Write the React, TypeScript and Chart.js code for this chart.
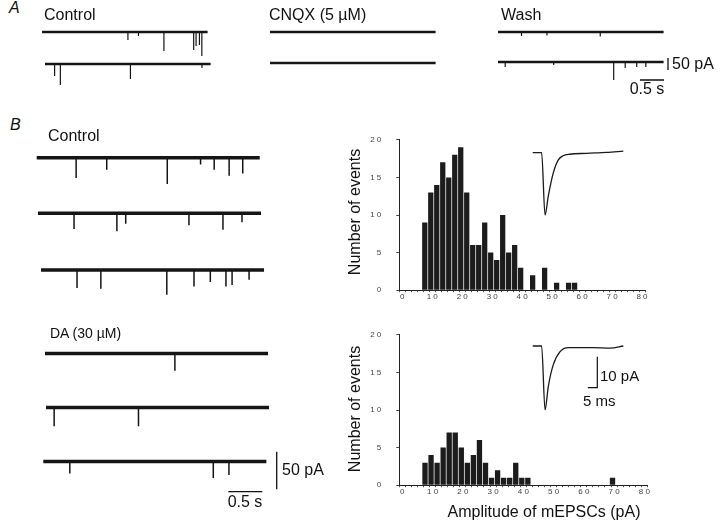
import React, { useEffect, useRef } from 'react';
import { Chart, registerables } from 'chart.js';

Chart.register(...registerables);

const FONT = '"Liberation Sans", Arial, Helvetica, sans-serif';

// ---------------- Histogram data (mEPSC amplitude, 2 pA bins starting at 6.5 pA)
const BIN_START = 6.5;
const BIN_WIDTH = 2;
const CONTROL_COUNTS = [9, 13, 14, 17, 15, 18, 19, 13, 6, 6, 9, 5, 4, 10, 5, 6, 3, 0, 2, 0, 3, 0, 1, 0, 1, 1];
const DA_COUNTS = [3, 4, 3, 5, 7, 7, 5, 3, 4, 6, 3, 1, 2, 1, 1, 3, 1, 1, 0, 0, 0, 0, 0, 0, 0, 0, 0, 0, 0, 0, 0, 1];
const X_TICK_LABELS = ['0', '1 0', '2 0', '3 0', '4 0', '5 0', '6 0', '7 0', '8 0'];
const Y_TICK_LABELS = ['0', '5', '1 0', '1 5', '2 0'];

// ---------------- Averaged mEPSC insets (time ms, current pA)
const INSET_CONTROL_T = [0, 4.7, 6.5, 8.2, 10.8, 13.4, 16.0, 19.5, 28.3, 38.9, 47.7];
const INSET_CONTROL_I = [0, 0, -20.1, -14.0, -6.6, -2.4, -1.0, -0.5, -0.2, 0.1, 0.5];
const INSET_DA_T = [0, 4.7, 6.5, 8.2, 10.8, 14.4, 18.7, 31.7, 40.8, 47.7];
const INSET_DA_I = [0, 0, -20.6, -13.1, -6.1, -1.8, -0.5, -0.5, -0.7, 0];

// ---------------- Panel A traces: event times (s) and amplitudes (pA)
const A_CONTROL1_T = [1.79, 2.01, 2.54, 3.16, 3.21, 3.28, 3.33];
const A_CONTROL1_AMP = [33, 17, 79, 75, 58, 54, 100];
const A_CONTROL2_T = [0.2, 0.32, 1.78, 3.27];
const A_CONTROL2_AMP = [50, 88, 63, 17];
const A_CNQX1_T: number[] = [];
const A_CNQX1_AMP: number[] = [];
const A_CNQX2_T: number[] = [];
const A_CNQX2_AMP: number[] = [];
const A_WASH1_T = [0.49, 1.02, 2.13];
const A_WASH1_AMP = [17, 15, 19];
const A_WASH2_T = [0.15, 1.16, 2.41, 2.65, 2.89, 3.08];
const A_WASH2_AMP = [21, 13, 75, 25, 21, 21];

// ---------------- Panel B traces: event times (s) and amplitudes (pA)
const B_CONTROL1_T = [0.58, 1.03, 1.92, 2.41, 2.61, 2.83, 3.03];
const B_CONTROL1_AMP = [27, 16, 35, 9, 16, 24, 21];
const B_CONTROL2_T = [0.53, 1.16, 1.29, 2.22, 2.72, 3.0];
const B_CONTROL2_AMP = [21, 24, 14, 16, 22, 12];
const B_CONTROL3_T = [0.53, 0.88, 1.85, 2.25, 2.49, 2.72, 2.81, 3.06];
const B_CONTROL3_AMP = [24, 25, 33, 22, 16, 22, 20, 13];
const B_DA1_T = [1.91];
const B_DA1_AMP = [23];
const B_DA2_T = [0.12, 1.36];
const B_DA2_AMP = [25, 25];
const B_DA3_T = [0.39, 2.5, 2.73];
const B_DA3_AMP = [16, 22, 18];

// scale bars
const SCALE_PA = 50;
const SCALE_S = 0.5;
const INSET_SCALE_PA = 10;
const INSET_SCALE_MS = 5;

type Pt = { x: number; y: number | null };

type TraceSpec = { x0: number; y0: number; dur: number; times: number[]; amps: number[] };

type PanelSpec = {
  width: number;
  height: number;
  pxPerS: number;
  pxPerPA: number;
  lineW: number;
  spikeW: number;
  traces: TraceSpec[];
  vBar: { x: number; y: number };
  hBar: { x: number; y: number };
};

function panelConfig(p: PanelSpec): any {
  const tx = (px: number) => px / p.pxPerS;
  const ty = (px: number) => -px / p.pxPerPA;
  const base: Pt[] = [];
  const spikes: Pt[] = [];
  p.traces.forEach((tr) => {
    const t0 = tx(tr.x0);
    const b = ty(tr.y0);
    base.push({ x: t0, y: b }, { x: t0 + tr.dur, y: b }, { x: t0 + tr.dur, y: null });
    tr.times.forEach((t, i) => {
      spikes.push({ x: t0 + t, y: b }, { x: t0 + t, y: b - tr.amps[i] }, { x: t0 + t, y: null });
    });
  });
  const vb = { x: tx(p.vBar.x), y: ty(p.vBar.y) };
  const hb = { x: tx(p.hBar.x), y: ty(p.hBar.y) };
  const bars: Pt[] = [
    { x: vb.x, y: vb.y },
    { x: vb.x, y: vb.y - SCALE_PA },
    { x: vb.x, y: null },
    { x: hb.x, y: hb.y },
    { x: hb.x + SCALE_S, y: hb.y },
  ];
  return {
    type: 'line',
    data: {
      datasets: [
        { data: base, borderColor: '#151515', borderWidth: p.lineW, spanGaps: false },
        { data: spikes, borderColor: '#151515', borderWidth: p.spikeW, spanGaps: false },
        { data: bars, borderColor: '#111', borderWidth: 1.3, spanGaps: false },
      ],
    },
    options: {
      animation: false,
      responsive: false,
      events: [],
      layout: { padding: 0 },
      elements: { point: { radius: 0 }, line: { tension: 0, borderCapStyle: 'butt' } },
      plugins: { legend: { display: false }, tooltip: { enabled: false } },
      scales: {
        x: { type: 'linear', display: false, min: 0, max: tx(p.width) },
        y: { type: 'linear', display: false, min: ty(p.height), max: 0 },
      },
    },
  };
}

function histConfig(counts: number[], padTop: number, padRight: number, yWidth: number, xHeight: number): any {
  const tickFont = { size: 8, family: FONT };
  return {
    type: 'bar',
    data: {
      datasets: [
        {
          data: counts.map((c, i) => ({ x: BIN_START + BIN_WIDTH * (i + 0.5), y: c })),
          backgroundColor: '#1c1c1c',
          borderWidth: 0,
          barPercentage: 0.88,
          categoryPercentage: 1,
        },
      ],
    },
    options: {
      animation: false,
      responsive: false,
      events: [],
      layout: { padding: { top: padTop, right: padRight, left: 0, bottom: 0 } },
      plugins: { legend: { display: false }, tooltip: { enabled: false } },
      scales: {
        x: {
          type: 'linear',
          min: 0,
          max: 80,
          afterBuildTicks: (s: any) => {
            const t = [];
            for (let v = 0; v <= 80; v += 2) t.push({ value: v });
            s.ticks = t;
          },
          afterFit: (s: any) => {
            s.height = xHeight;
          },
          ticks: {
            autoSkip: false,
            maxRotation: 0,
            padding: 0,
            color: '#444',
            font: tickFont,
            callback: (v: number) => (v % 10 === 0 ? X_TICK_LABELS[v / 10] : ''),
          },
          grid: { drawOnChartArea: false, drawTicks: true, tickLength: 2, color: '#555' },
          border: { display: true, color: '#222', width: 1 },
        },
        y: {
          min: 0,
          max: 20,
          afterBuildTicks: (s: any) => {
            s.ticks = [0, 5, 10, 15, 20].map((v) => ({ value: v }));
          },
          afterFit: (s: any) => {
            s.width = yWidth;
          },
          ticks: {
            padding: 15,
            color: '#444',
            font: tickFont,
            callback: (v: number) => Y_TICK_LABELS[v / 5],
          },
          grid: { drawOnChartArea: false, drawTicks: true, tickLength: 3, color: '#444' },
          border: { display: true, color: '#222', width: 1 },
        },
      },
    },
  };
}

function insetConfig(
  ts: number[],
  is: number[],
  xmin: number,
  xmax: number,
  ymin: number,
  ymax: number,
  bar?: { x: number; y: number }
): any {
  const ds: any[] = [
    {
      data: ts.map((t, i) => ({ x: t, y: is[i] })),
      borderColor: '#1a1a1a',
      borderWidth: 1.3,
      cubicInterpolationMode: 'monotone',
    },
  ];
  if (bar) {
    ds.push({
      data: [
        { x: bar.x, y: bar.y },
        { x: bar.x, y: bar.y - INSET_SCALE_PA },
        { x: bar.x - INSET_SCALE_MS, y: bar.y - INSET_SCALE_PA },
      ],
      borderColor: '#111',
      borderWidth: 1.2,
      tension: 0,
    });
  }
  return {
    type: 'line',
    data: { datasets: ds },
    options: {
      animation: false,
      responsive: false,
      events: [],
      layout: { padding: 0 },
      elements: { point: { radius: 0 } },
      plugins: { legend: { display: false }, tooltip: { enabled: false } },
      scales: {
        x: { type: 'linear', display: false, min: xmin, max: xmax },
        y: { type: 'linear', display: false, min: ymin, max: ymax },
      },
    },
  };
}

function ChartBox({ left, top, width, height, config }: any) {
  const ref = useRef<HTMLCanvasElement>(null);
  useEffect(() => {
    const chart = new Chart(ref.current as HTMLCanvasElement, config);
    return () => chart.destroy();
  }, []);
  return (
    <canvas
      ref={ref}
      width={width}
      height={height}
      style={{ position: 'absolute', left, top, width, height }}
    />
  );
}

function Label({ x, y, size = 16, italic = false, children, rotate = false, center = false }: any) {
  const style: any = {
    position: 'absolute',
    left: x,
    top: y,
    fontFamily: FONT,
    fontSize: size,
    fontStyle: italic ? 'italic' : 'normal',
    lineHeight: 1,
    whiteSpace: 'nowrap',
    color: '#111',
    transform: rotate
      ? 'translate(-50%,-50%) rotate(-90deg)'
      : center
      ? 'translate(-50%,-50%)'
      : 'translate(0,-50%)',
  };
  return <div style={style}>{children}</div>;
}

// inset scales: 1.9 px per ms, 3.1 px per pA, trace starts at x=532.7
const IN_PX_MS = 1.9;
const IN_PX_PA = 3.1;
const IN_X0 = 532.7;

export default function App() {
  const A_DUR = 3.45;
  const B_DUR = 3.28;
  const panelA = panelConfig({
    width: 720,
    height: 85,
    pxPerS: 48,
    pxPerPA: 0.24,
    lineW: 2.4,
    spikeW: 1.2,
    traces: [
      { x0: 42, y0: 12, dur: A_DUR, times: A_CONTROL1_T, amps: A_CONTROL1_AMP },
      { x0: 45, y0: 44, dur: A_DUR, times: A_CONTROL2_T, amps: A_CONTROL2_AMP },
      { x0: 270, y0: 12, dur: A_DUR, times: A_CNQX1_T, amps: A_CNQX1_AMP },
      { x0: 270, y0: 43, dur: A_DUR, times: A_CNQX2_T, amps: A_CNQX2_AMP },
      { x0: 498, y0: 12, dur: A_DUR, times: A_WASH1_T, amps: A_WASH1_AMP },
      { x0: 498, y0: 42, dur: A_DUR, times: A_WASH2_T, amps: A_WASH2_AMP },
    ],
    vBar: { x: 668, y: 38 },
    hBar: { x: 640, y: 60 },
  });
  const panelB = panelConfig({
    width: 300,
    height: 380,
    pxPerS: 68,
    pxPerPA: 0.752,
    lineW: 3.6,
    spikeW: 1.5,
    traces: [
      { x0: 36.7, y0: 17.7, dur: B_DUR, times: B_CONTROL1_T, amps: B_CONTROL1_AMP },
      { x0: 38, y0: 73.3, dur: B_DUR, times: B_CONTROL2_T, amps: B_CONTROL2_AMP },
      { x0: 41, y0: 130, dur: B_DUR, times: B_CONTROL3_T, amps: B_CONTROL3_AMP },
      { x0: 45, y0: 213.5, dur: B_DUR, times: B_DA1_T, amps: B_DA1_AMP },
      { x0: 46, y0: 267.5, dur: B_DUR, times: B_DA2_T, amps: B_DA2_AMP },
      { x0: 43.3, y0: 321.5, dur: B_DUR, times: B_DA3_T, amps: B_DA3_AMP },
    ],
    vBar: { x: 276.7, y: 311.7 },
    hBar: { x: 228.3, y: 351.7 },
  });

  const histTop = histConfig(CONTROL_COUNTS, 12.7, 15, 59.3, 18.3);
  const histBot = histConfig(DA_COUNTS, 15, 12.7, 59.3, 16.7);

  const insetTop = insetConfig(
    INSET_CONTROL_T,
    INSET_CONTROL_I,
    (520 - IN_X0) / IN_PX_MS,
    (640 - IN_X0) / IN_PX_MS,
    -(225 - 152.7) / IN_PX_PA,
    (152.7 - 140) / IN_PX_PA
  );
  const insetBot = insetConfig(
    INSET_DA_T,
    INSET_DA_I,
    (520 - IN_X0) / IN_PX_MS,
    (640 - IN_X0) / IN_PX_MS,
    -(415 - 346) / IN_PX_PA,
    (346 - 335) / IN_PX_PA,
    { x: (597.3 - IN_X0) / IN_PX_MS, y: -(356.7 - 346) / IN_PX_PA }
  );

  return (
    <div style={{ position: 'absolute', left: 0, top: 0, width: 720, height: 531, background: '#fff', overflow: 'hidden' }}>
      <ChartBox left={0} top={20} width={720} height={85} config={panelA} />
      <ChartBox left={0} top={140} width={300} height={380} config={panelB} />
      <ChartBox left={340} top={120} width={320} height={190} config={histTop} />
      <ChartBox left={340} top={315} width={320} height={190} config={histBot} />
      <ChartBox left={520} top={140} width={120} height={85} config={insetTop} />
      <ChartBox left={520} top={335} width={120} height={80} config={insetBot} />

      <Label x={9} y={8} italic>A</Label>
      <Label x={44} y={15}>Control</Label>
      <Label x={269} y={15}>CNQX (5 µM)</Label>
      <Label x={501} y={15}>Wash</Label>
      <Label x={672} y={64}>50 pA</Label>
      <Label x={647} y={89} center>0.5 s</Label>

      <Label x={10} y={125} italic>B</Label>
      <Label x={48} y={136}>Control</Label>
      <Label x={50} y={333} size={14}>DA (30 µM)</Label>
      <Label x={282} y={470}>50 pA</Label>
      <Label x={245} y={502} center>0.5 s</Label>

      <Label x={355} y={212} rotate>Number of events</Label>
      <Label x={355} y={409} rotate>Number of events</Label>
      <Label x={544} y={512} center>Amplitude of mEPSCs (pA)</Label>
      <Label x={600} y={375} size={15}>10 pA</Label>
      <Label x={583} y={400} size={15}>5 ms</Label>
    </div>
  );
}
